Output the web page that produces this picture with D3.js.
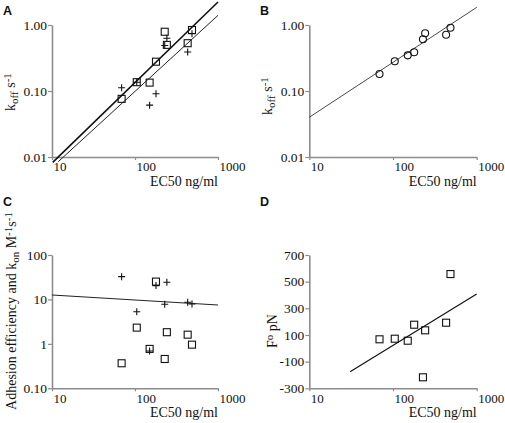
<!DOCTYPE html>
<html><head><meta charset="utf-8">
<script src="https://cdn.jsdelivr.net/npm/d3@7"></script>
<style>
body{margin:0;background:#fff}
</style>
</head><body><svg id="c" width="505" height="423"></svg>
<script>
// ---- data ----
const ec50 = [69, 105, 150, 179, 228, 242, 431, 486];
const aSquares = [0.076, 0.136, 0.134, 0.278, 0.79, 0.50, 0.53, 0.84];
const aPluses  = [0.112, 0.136, 0.061, 0.091, 0.49, 0.63, 0.39, 0.74];
const aFit1X = [10.2, 1000], aFit1Y = [0.0083, 2.23];
const aFit2X = [11.9, 1000], aFit2Y = [0.0085, 1.40];
const bCircles = [0.181, 0.282, 0.347, 0.386, 0.607, 0.748, 0.713, 0.91];
const bFitX = [10, 1000], bFitY = [0.040, 1.85];
const cPluses  = [32.6, 5.3, 0.69, 20.5, 7.8, 24.4, 8.65, 7.9];
const cSquares = [0.366, 2.32, 0.77, 25.2, 0.457, 1.83, 1.61, 0.96];
const cFitX = [10, 1000], cFitY = [12.6, 7.5];
const dSquares = [67.5, 72, 57, 177, -217.5, 135, 192, 557];
const dFitX = [30.7, 1000], dFitY = [-175, 407];
const xTicks = [10, 100, 1000];
const xTickLabels = ["10", "100", "1000"];
const kYTicks = [0.01, 0.1, 1];
const kYTickLabels = ["0.01", "0.10", "1.00"];
const cYTicks = [0.1, 1, 10, 100];
const cYTickLabels = ["0.10", "1", "10", "100"];
const dYTicks = [-300, -100, 100, 300, 500, 700];
const dYTickLabels = ["-300", "-100", "100", "300", "500", "700"];
const xTitle = "EC50 ng/ml";

const SERIF = "'Liberation Serif', 'DejaVu Serif', serif";
const svg = d3.select("#c");

function panel(o) {
  const g = svg.append("g");
  const x = d3.scaleLog().domain([10, 1000]).range([o.x0, o.x1]);
  const y = (o.log ? d3.scaleLog() : d3.scaleLinear()).domain(o.yDomain).range([o.yb, o.yt]);
  // axes
  const ya = g.append("g").attr("transform", `translate(${o.x0},0)`)
    .call(d3.axisLeft(y).tickValues(o.yTicks).tickFormat((d,i)=>o.yLabels[i]).tickSize(4).tickPadding(1).tickSizeOuter(0));
  const xa = g.append("g").attr("transform", `translate(0,${o.yb})`)
    .call(d3.axisBottom(x).tickValues(xTicks).tickFormat((d,i)=>xTickLabels[i]).tickSize(3).tickPadding(2).tickSizeOuter(0));
  xa.selectAll("text").attr("text-anchor", "start").attr("x", 1);
  [ya, xa].forEach(a => {
    a.attr("font-family", null).attr("font-size", null);
    a.select(".domain").attr("stroke", "#8c8c8c").attr("stroke-width", 1.6);
    a.selectAll(".tick line").attr("stroke", "#8c8c8c").attr("stroke-width", 1.2);
    a.selectAll("text").style("font-size", "13.5px").attr("fill", "#111");
  });
  xa.selectAll("text").style("font-size", "13px");
  // x title
  g.append("text").attr("x", o.x1).attr("y", o.yb + 29).attr("text-anchor", "end")
    .style("font-size", "14px").text(xTitle);
  // panel letter
  g.append("text").attr("class", "letter").attr("x", o.lx).attr("y", o.ly).text(o.letter)
    .style("font-weight", "bold").style("font-size", "12.5px");
  // y title
  const t = g.append("text").attr("transform", `translate(${o.tx},${o.ty}) rotate(-90)`)
    .attr("text-anchor", "middle").style("font-size", "14px");
  o.title.forEach(p => {
    const s = t.append("tspan").text(p[0]);
    if (p[1] === "sub") s.attr("baseline-shift", "-25%").style("font-size", "11px");
    if (p[1] === "sup") s.attr("baseline-shift", "40%").style("font-size", "11px");
  });
  // fits
  const line = d3.line().x(d => x(d[0])).y(d => y(d[1]));
  o.fits.forEach(f => {
    g.append("path").datum(f.xs.map((v, i) => [v, f.ys[i]])).attr("d", line)
      .attr("fill", "none").attr("stroke", f.color).attr("stroke-width", f.w);
  });
  // markers
  o.series.forEach(s => {
    const pts = ec50.map((v, i) => [v, s.vals[i]]);
    if (s.type === "square") {
      g.selectAll(null).data(pts).enter().append("rect")
        .attr("x", d => x(d[0]) - 3.5).attr("y", d => y(d[1]) - 3.5).attr("width", 7).attr("height", 7)
        .attr("fill", "none").attr("stroke", "#111").attr("stroke-width", 1.1);
    } else if (s.type === "circle") {
      g.selectAll(null).data(pts).enter().append("circle")
        .attr("cx", d => x(d[0])).attr("cy", d => y(d[1])).attr("r", 3.5)
        .attr("fill", "none").attr("stroke", "#111").attr("stroke-width", 1.1);
    } else {
      g.selectAll(null).data(pts).enter().append("path")
        .attr("d", d => { const cx = x(d[0]), cy = y(d[1]);
          return `M${cx-3.5},${cy}H${cx+3.5}M${cx},${cy-3.5}V${cy+3.5}`; })
        .attr("fill", "none").attr("stroke", "#111").attr("stroke-width", 1.1);
    }
  });
}

panel({letter: "A", lx: 3, ly: 15, x0: 52, x1: 218, yt: 25, yb: 157, log: true,
  yDomain: [0.01, 1], yTicks: kYTicks, yLabels: kYTickLabels, tx: 15, ty: 92,
  title: [["k"], ["off", "sub"], [" s"], ["-1", "sup"]],
  fits: [{xs: aFit1X, ys: aFit1Y, color: "#111", w: 1.6}, {xs: aFit2X, ys: aFit2Y, color: "#222", w: 1}],
  series: [{type: "square", vals: aSquares}, {type: "plus", vals: aPluses}]});

panel({letter: "B", lx: 260, ly: 15, x0: 309.3, x1: 476.7, yt: 25, yb: 157, log: true,
  yDomain: [0.01, 1], yTicks: kYTicks, yLabels: kYTickLabels, tx: 272, ty: 96,
  title: [["k"], ["off", "sub"], [" s"], ["-1", "sup"]],
  fits: [{xs: bFitX, ys: bFitY, color: "#333", w: 0.9}],
  series: [{type: "circle", vals: bCircles}]});

panel({letter: "C", lx: 3, ly: 206, x0: 52, x1: 218, yt: 255, yb: 388.3, log: true,
  yDomain: [0.1, 100], yTicks: cYTicks, yLabels: cYTickLabels, tx: 16, ty: 311,
  title: [["Adhesion efficiency and k"], ["on", "sub"], [" M"], ["-1", "sup"], ["s"], ["-1", "sup"]],
  fits: [{xs: cFitX, ys: cFitY, color: "#222", w: 1.2}],
  series: [{type: "square", vals: cSquares}, {type: "plus", vals: cPluses}]});

panel({letter: "D", lx: 260, ly: 206, x0: 309.3, x1: 476.7, yt: 255, yb: 388.3, log: false,
  yDomain: [-300, 700], yTicks: dYTicks, yLabels: dYTickLabels, tx: 277, ty: 331,
  title: [["F"], ["o", "sup"], [" pN"]],
  fits: [{xs: dFitX, ys: dFitY, color: "#111", w: 1.2}],
  series: [{type: "square", vals: dSquares}]});

svg.selectAll("text").style("font-family", SERIF).attr("fill", "#111");
svg.selectAll("text.letter").style("font-family", "'Liberation Sans', Arial, sans-serif");
</script></body></html>
